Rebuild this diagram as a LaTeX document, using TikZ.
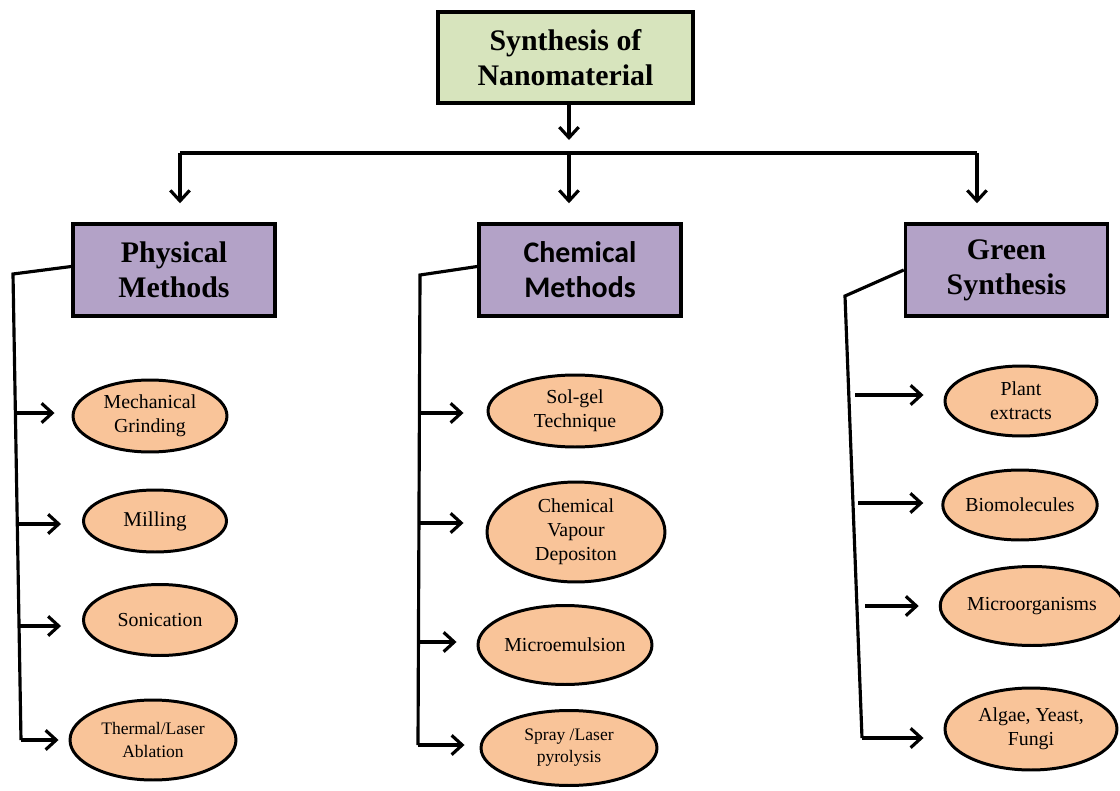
\documentclass[tikz,border=0pt]{standalone}
\usepackage{fontspec}
\setmainfont{Liberation Serif}
\newfontfamily\calib{Carlito}
\usetikzlibrary{arrows.meta,shapes.geometric,calc}
\definecolor{topgreen}{HTML}{D7E4BD}
\definecolor{boxpurple}{HTML}{B3A2C7}
\definecolor{peach}{HTML}{F9C499}
\begin{document}
\begin{tikzpicture}[x=0.02cm,y=-0.02cm,
 topbox/.style={draw=black, line width=2pt, fill=topgreen, minimum width=5.1cm, minimum height=1.82cm, align=center, font=\bfseries\fontsize{17}{20}\selectfont, inner sep=0pt},
 catbox/.style={draw=black, line width=2pt, fill=boxpurple, minimum width=4.04cm, minimum height=1.84cm, align=center, font=\bfseries\fontsize{17}{20}\selectfont, inner sep=0pt},
 oval/.style={ellipse, draw=black, line width=1.7pt, fill=peach, align=center, inner sep=0pt, font=\fontsize{11.3}{13.6}\selectfont},
 conn/.style={line width=1.8pt, draw=black},
 arr/.style={conn, -{Straight Barb[length=6pt,width=11pt]}, shorten >=#1},
 arr/.default=0pt
]
\useasboundingbox (0,0) rectangle (1120,791);

% main boxes
\node[topbox] (T) at (565.5,57.5) {Synthesis of\\Nanomaterial};
\node[catbox] (P) at (174,270) {Physical\\Methods};
\node[catbox, font=\calib\bfseries\fontsize{17}{20}\selectfont] (C) at (580,270) {Chemical\\Methods};
\node[catbox] (G) at (1006.5,270) {Green\\Synthesis};

% ellipses: physical
\node[oval, minimum width=3.08cm, minimum height=1.44cm] (m1) at (150,416) {Mechanical\\Grinding};
\node[oval, minimum width=2.86cm, minimum height=1.24cm, font=\fontsize{12}{14}\selectfont] (m2) at (155,521) {Milling};
\node[oval, minimum width=3.06cm, minimum height=1.42cm] (m3) at (160,620) {Sonication};
\node[oval, minimum width=3.32cm, minimum height=1.6cm, font=\fontsize{10}{13}\selectfont] (m4) at (153,740) {Thermal/Laser\\Ablation};

% ellipses: chemical
\node[oval, minimum width=3.48cm, minimum height=1.44cm] (c1) at (575,411) {Sol-gel\\Technique};
\node[oval, minimum width=3.56cm, minimum height=2.0cm] (c2) at (576,532) {Chemical\\Vapour\\Depositon};
\node[oval, minimum width=3.48cm, minimum height=1.58cm] (c3) at (565,645) {Microemulsion};
\node[oval, minimum width=3.52cm, minimum height=1.5cm, font=\fontsize{10}{12.5}\selectfont] (c4) at (569,748) {Spray /Laser\\pyrolysis};

% ellipses: green
\node[oval, minimum width=3.04cm, minimum height=1.4cm] (g1) at (1021,401) {Plant\\extracts};
\node[oval, minimum width=3.08cm, minimum height=1.4cm] (g2) at (1020,505) {Biomolecules};
\node[oval, minimum width=3.5cm, minimum height=1.58cm] (g3) at (1032,606) {Microorganisms};
\node[oval, minimum width=3.44cm, minimum height=1.64cm] (g4) at (1031,729) {Algae, Yeast,\\Fungi};

% top connectors
\coordinate (hl) at (180,153);
\coordinate (hm) at (569,153);
\coordinate (hr) at (977,153);
\draw[arr=0.26cm] (T.south -| hm) -- (hm);
\draw[conn] (hl) -- (hr);
\draw[arr=0.38cm] (hl) -- (hl |- P.north);
\draw[arr=0.38cm] (hm) -- (hm |- C.north);
\draw[arr=0.38cm] (hr) -- (hr |- G.north);

% physical spine
\coordinate (p0) at (13,274);
\coordinate (p5) at (21,740);
\coordinate (pa1) at (15,413);
\coordinate (pa2) at (17,524);
\coordinate (pa3) at (19,626);
\draw[conn] ([yshift=2pt]P.west) -- (p0) -- (p5);
\draw[arr=0.34cm] (pa1) -- (pa1 -| m1.west);
\draw[arr=0.42cm] (pa2) -- (pa2 -| m2.west);
\draw[arr=0.42cm] (pa3) -- (pa3 -| m3.west);
\draw[arr=0.2cm] (p5) -- (p5 -| m4.west);

% chemical spine
\coordinate (c0) at (420,275);
\coordinate (c5) at (418,745);
\coordinate (ca1) at (420,413);
\coordinate (ca2) at (419,523);
\coordinate (ca3) at (419,642);
\draw[conn] ([yshift=2pt]C.west) -- (c0) -- (c5);
\draw[arr=0.46cm] (ca1) -- (ca1 -| c1.west);
\draw[arr=0.44cm] (ca2) -- (ca2 -| c2.west);
\draw[arr=0.4cm] (ca3) -- (ca3 -| c3.west);
\draw[arr=0.3cm] (c5) -- (c5 -| c4.west);

% green spine
\coordinate (g0) at (845,296);
\coordinate (g5) at (862,738);
\coordinate (ga1) at (855,395);
\coordinate (ga2) at (858,503);
\coordinate (ga3) at (865,606);
\draw[conn] (G.west) -- (g0) -- (g5);
\draw[arr=0.4cm] (ga1) -- (ga1 -| g1.west);
\draw[arr=0.36cm] (ga2) -- (ga2 -| g2.west);
\draw[arr=0.4cm] (ga3) -- (ga3 -| g3.west);
\draw[arr=0.4cm] (g5) -- (g5 -| g4.west);
\end{tikzpicture}
\end{document}
